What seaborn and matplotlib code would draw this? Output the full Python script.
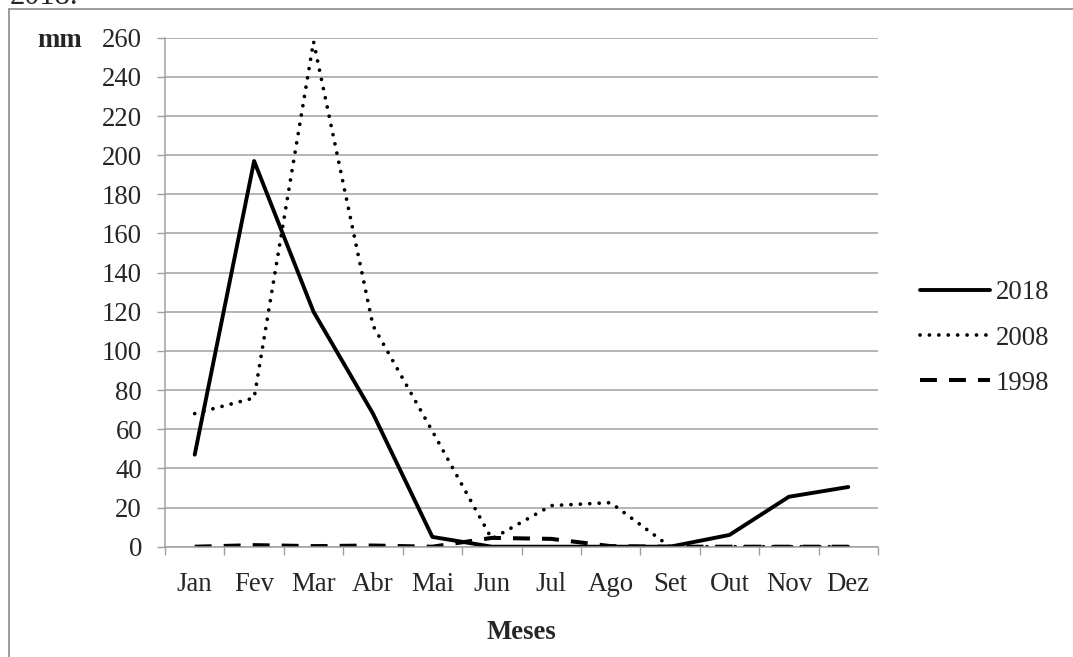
import numpy as np
import pandas as pd
import matplotlib
matplotlib.use("Agg")
import matplotlib.pyplot as plt
from matplotlib.lines import Line2D
from matplotlib.ticker import FixedLocator
import seaborn as sns

months = ["Jan", "Fev", "Mar", "Abr", "Mai", "Jun", "Jul", "Ago", "Set", "Out", "Nov", "Dez"]
rain_2018 = [47, 197, 120, 68, 5, 0, 0, 0, 0, 6, 25.5, 30.5]
rain_2008 = [68, 76, 258, 113, 59, 4, 21, 22.5, 0, 0, 0, 0]
rain_1998 = [0, 0.8, 0.3, 0.6, 0, 4.5, 4, 0.3, 0, 0, 0, 0]
series_labels = ["2018", "2008", "1998"]
y_ticks = list(range(0, 261, 20))

sns.set_style("white")
plt.rcParams["font.family"] = ["Liberation Serif", "DejaVu Serif"]

FS = 19.3
W, H = 1073, 657
fig = plt.figure(figsize=(W / 100, H / 100), dpi=100)
ax = fig.add_axes([165 / W, 1 - 546.7 / H, (878 - 165) / W, (546.7 - 37.7) / H])

df = pd.DataFrame({"Mes": months * 3,
                   "mm": rain_2018 + rain_2008 + rain_1998,
                   "Ano": [series_labels[0]] * 12 + [series_labels[1]] * 12 + [series_labels[2]] * 12})

styles = {
    "2018": dict(linestyle="-", lw=2.8),
    "2008": dict(linestyle=(0, (0.01, 2.5)), lw=2.7, dash_capstyle="round"),
    "1998": dict(linestyle=(0, (4.2, 3.0)), lw=2.9),
}
for lab in series_labels:
    sub = df[df["Ano"] == lab]
    sns.lineplot(data=sub, x="Mes", y="mm", ax=ax, color="black", sort=False,
                 label=lab, **styles[lab])

ax.set_xlim(-0.5, 11.5)
ax.set_ylim(0, 260)
ax.set_yticks(y_ticks)
ax.set_xticks(range(len(months)))
ax.set_xticklabels(months)
ax.xaxis.set_minor_locator(FixedLocator(np.arange(-0.5, 12, 1)))

gray = "#a0a0a0"
ax.yaxis.grid(True, color=gray, lw=1.1)
ax.xaxis.grid(False)
for s in ["top", "right"]:
    ax.spines[s].set_visible(False)
for s in ["left", "bottom"]:
    ax.spines[s].set_color(gray)
    ax.spines[s].set_linewidth(1.1)

ax.tick_params(axis="y", which="major", direction="out", length=5.5, width=1, color=gray,
               labelsize=FS, pad=11, left=True)
ax.tick_params(axis="x", which="major", length=0, labelsize=FS, pad=18)
ax.tick_params(axis="x", which="minor", direction="out", length=5.5, width=1, color=gray, bottom=True)
ax.set_xlabel("")
ax.set_ylabel("")

fig.text(82 / W, 1 - 37.7 / H, "mm", ha="right", va="center_baseline",
         fontsize=FS, fontweight="bold")
fig.text(521.5 / W, 1 - 639 / H, "Meses", ha="center", va="baseline",
         fontsize=FS, fontweight="bold")

leg = ax.legend(loc="center left", bbox_to_anchor=(920 / W, 1 - 338 / H),
                bbox_transform=fig.transFigure, frameon=False, fontsize=FS,
                handlelength=2.6, handletextpad=0.22, labelspacing=0.75,
                borderpad=0, borderaxespad=0)

# outer frame (partially visible)
fig.add_artist(Line2D([9 / W, 1], [1 - 8.5 / H] * 2, transform=fig.transFigure, color="#8c8c8c", lw=1.2))
fig.add_artist(Line2D([9 / W] * 2, [0, 1 - 8.5 / H], transform=fig.transFigure, color="#8c8c8c", lw=1.2))
fig.text(10 / W, 1 - 3.5 / H, "2018.", ha="left", va="baseline", fontsize=22)

fig.savefig("out.png", dpi=100)
